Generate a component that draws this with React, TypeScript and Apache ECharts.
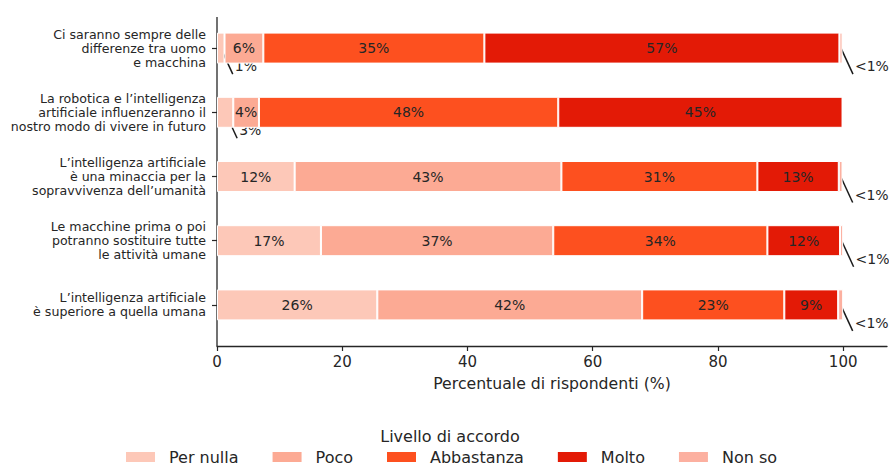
import React, { useEffect, useRef } from "react";
import * as echarts from "echarts";

const categories = [
  "Ci saranno sempre delle\ndifferenze tra uomo\ne macchina",
  "La robotica e l’intelligenza\nartificiale influenzeranno il\nnostro modo di vivere in futuro",
  "L’intelligenza artificiale\nè una minaccia per la\nsopravvivenza dell’umanità",
  "Le macchine prima o poi\npotranno sostituire tutte\nle attività umane",
  "L’intelligenza artificiale\nè superiore a quella umana",
];

const perNulla = [1.2, 2.6, 12.4, 16.6, 25.6];
const poco = [6.2, 4.1, 42.6, 37.1, 42.3];
const abbastanza = [35.3, 47.8, 31.3, 34.2, 22.7];
const molto = [56.7, 45.4, 13.0, 11.6, 8.6];
const nonSo = [0.5, 0, 0.6, 0.5, 0.8];

const seriesNames = ["Per nulla", "Poco", "Abbastanza", "Molto", "Non so"];
const seriesValues = [perNulla, poco, abbastanza, molto, nonSo];
const seriesColors = ["#fdc8b8", "#fcaa94", "#fd501f", "#e31a06", "#fcb0a0"];

const xTicks = [0, 20, 40, 60, 80, 100];

const legendTitle = "Livello di accordo";
const xTitle = "Percentuale di rispondenti (%)";

const TEXT = "#262626";
const FONT = "DejaVu Sans";
const SMALL = 3.5;

export default function App() {
  const ref = useRef<HTMLDivElement>(null);

  useEffect(() => {
    document.body.style.margin = "0";
    if (!ref.current) return;
    const chart = echarts.init(ref.current, null, { renderer: "svg" });

    const smallItems: number[][] = [];
    categories.forEach((_, i) => {
      let acc = 0;
      seriesValues.forEach((arr) => {
        const v = arr[i];
        if (v > 0 && v < SMALL) smallItems.push([acc, acc + v, i]);
        acc += v;
      });
    });

    const barSeries = seriesNames.map((name, j) => ({
      name,
      type: "bar",
      stack: "total",
      barWidth: 31,
      data: seriesValues[j],
      itemStyle: { color: seriesColors[j], borderColor: "#ffffff", borderWidth: 1 },
      label: {
        show: true,
        position: "inside",
        color: TEXT,
        fontSize: 14,
        fontFamily: FONT,
        formatter: (p: any) => (p.value >= SMALL ? Math.round(p.value) + "%" : ""),
      },
      emphasis: { disabled: true },
    }));

    const option: any = {
      animation: false,
      textStyle: { fontFamily: FONT },
      grid: { left: 217, right: 2, top: 16, bottom: 129, containLabel: false },
      xAxis: {
        type: "value",
        min: 0,
        max: 107,
        interval: 20,
        offset: 9,
        splitLine: { show: false },
        axisLine: { show: true, lineStyle: { color: TEXT, width: 1.3 } },
        axisTick: { show: true, length: 5, lineStyle: { color: TEXT, width: 1.2 }, customValues: xTicks },
        axisLabel: { color: TEXT, fontSize: 15, fontFamily: FONT, margin: 8, customValues: xTicks },
        name: xTitle,
        nameLocation: "middle",
        nameGap: 29,
        nameTextStyle: { color: TEXT, fontSize: 15.7, fontFamily: FONT },
      },
      yAxis: {
        type: "category",
        data: categories,
        inverse: true,
        axisLine: { show: false },
        axisTick: { show: true, length: 5, alignWithLabel: true, lineStyle: { color: TEXT, width: 1.2 } },
        axisLabel: { color: TEXT, fontSize: 12.6, fontFamily: FONT, lineHeight: 14, margin: 11, align: "right" },
      },
      legend: {
        data: seriesNames,
        left: 126,
        top: 449,
        padding: 0,
        icon: "rect",
        itemWidth: 29,
        itemHeight: 10,
        itemGap: 34,
        itemStyle: { borderWidth: 0 },
        textStyle: { color: TEXT, fontSize: 16, fontFamily: FONT, padding: [0, 0, 0, 9] },
        selectedMode: false,
      },
      graphic: [
        {
          type: "line",
          shape: { x1: 217, y1: 17, x2: 217, y2: 346 },
          style: { stroke: TEXT, lineWidth: 1.3 },
        },
        {
          type: "text",
          x: 450,
          y: 436,
          style: { text: legendTitle, fill: TEXT, fontSize: 16, fontFamily: FONT, align: "center", verticalAlign: "middle" },
        },
      ],
      series: [
        ...barSeries,
        {
          type: "custom",
          name: "_outside",
          clip: false,
          silent: true,
          encode: { x: [0, 1], y: 2 },
          data: smallItems,
          renderItem: (_params: any, api: any) => {
            const s = api.value(0);
            const e = api.value(1);
            const r = api.value(2);
            const p = api.coord([(s + e) / 2, r]);
            const v = e - s;
            const txt = v < 1 ? "<1%" : Math.round(v) + "%";
            return {
              type: "group",
              children: [
                {
                  type: "line",
                  shape: { x1: p[0], y1: p[1], x2: p[0] + 12, y2: p[1] + 26 },
                  style: { stroke: "#1a1a1a", lineWidth: 1.5 },
                },
                {
                  type: "text",
                  x: p[0] + 14,
                  y: p[1] + 18,
                  style: { text: txt, fill: TEXT, fontSize: 14, fontFamily: FONT, align: "left", verticalAlign: "middle" },
                },
              ],
            };
          },
        },
      ],
    };

    chart.setOption(option);
    return () => chart.dispose();
  }, []);

  return <div ref={ref} style={{ width: 889, height: 466 }} />;
}
